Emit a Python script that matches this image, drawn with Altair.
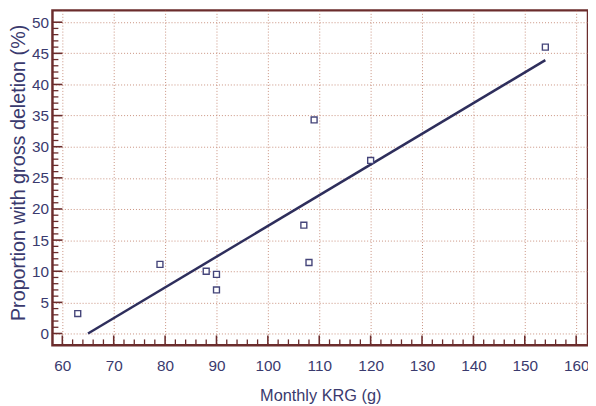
import altair as alt
import pandas as pd

# data
krg = [63, 79, 88, 90, 90, 107, 108, 109, 120, 154]
deletion = [3.2, 11.1, 10.0, 9.5, 7.0, 17.4, 11.4, 34.3, 27.8, 46.0]
fit_x = [65, 154]
fit_y = [0.0, 43.9]
x_major = list(range(60, 161, 10))
y_major = list(range(0, 51, 5))
x_minor = [v for v in range(60, 161, 2) if v % 10 != 0]
y_minor = [v for v in range(0, 51) if v % 5 != 0]

W, H = 542, 339
TEXT = "#3a3a6e"
FRAME = "#6b2c2c"
GRID = "#c8907e"
FONT = "Liberation Sans, Arial"

xs = alt.Scale(domain=[58.08, 162.3], nice=False, zero=False)
ys = alt.Scale(domain=[-1.9, 51.9], nice=False, zero=False)

pts = pd.DataFrame({"x": krg, "y": deletion})
fit = pd.DataFrame({"x": fit_x, "y": fit_y})

xaxis = alt.Axis(values=x_major, grid=True, gridColor=GRID, gridDash=[1, 2], gridWidth=1,
                 ticks=False, domain=False, labelFont=FONT, labelFontSize=15.5,
                 labelColor=TEXT, labelPadding=25, labelBaseline="alphabetic",
                 labelOverlap=False, labelFlush=False,
                 title="Monthly KRG (g)", titleFont=FONT, titleFontSize=16.5,
                 titleFontWeight="normal", titleColor=TEXT, titleY=56,
                 titleBaseline="alphabetic")
yaxis = alt.Axis(values=y_major, grid=True, gridColor=GRID, gridDash=[1, 2], gridWidth=1,
                 ticks=False, domain=False, labelFont=FONT, labelFontSize=15.5,
                 labelColor=TEXT, labelPadding=4, labelFlush=False, labelOverlap=False,
                 title="Proportion with gross deletion (%)", titleFont=FONT,
                 titleFontSize=20, titleFontWeight="normal", titleColor=TEXT,
                 titleX=-28, titleY=164, titleBaseline="alphabetic")


def X(field):
    return alt.X(field, scale=xs, axis=xaxis)


def Y(field):
    return alt.Y(field, scale=ys, axis=yaxis)


line = alt.Chart(fit).mark_line(color="#2e2e5c", strokeWidth=2.5).encode(
    x=X("x:Q"), y=Y("y:Q"))

points = alt.Chart(pts).mark_point(shape="square", size=36, filled=False, fill="white",
                                   fillOpacity=1, stroke="#45457a", strokeWidth=1.4,
                                   opacity=1).encode(x=X("x:Q"), y=Y("y:Q"))

ymaj = alt.Chart(pd.DataFrame({"v": y_major})).mark_rule(color=FRAME, strokeWidth=1.6).encode(
    y=Y("v:Q"), x=alt.value(0), x2=alt.value(10))
ymin = alt.Chart(pd.DataFrame({"v": y_minor})).mark_rule(color=FRAME, strokeWidth=1.3).encode(
    y=Y("v:Q"), x=alt.value(0), x2=alt.value(6))
xmaj = alt.Chart(pd.DataFrame({"v": x_major})).mark_rule(color=FRAME, strokeWidth=1.6).encode(
    x=X("v:Q"), y=alt.value(H), y2=alt.value(H - 10))
xmin = alt.Chart(pd.DataFrame({"v": x_minor})).mark_rule(color=FRAME, strokeWidth=1.3).encode(
    x=X("v:Q"), y=alt.value(H), y2=alt.value(H - 6))

chart = alt.layer(ymin, ymaj, xmin, xmaj, line, points).properties(
    width=W, height=H,
    autosize=alt.AutoSizeParams(type="none"),
    padding={"left": 45, "top": 0, "right": 0, "bottom": 59},
    background="white",
).configure_view(stroke=FRAME, strokeWidth=2.5)

chart.save("out.html", embed_options={"renderer": "svg", "actions": False})
